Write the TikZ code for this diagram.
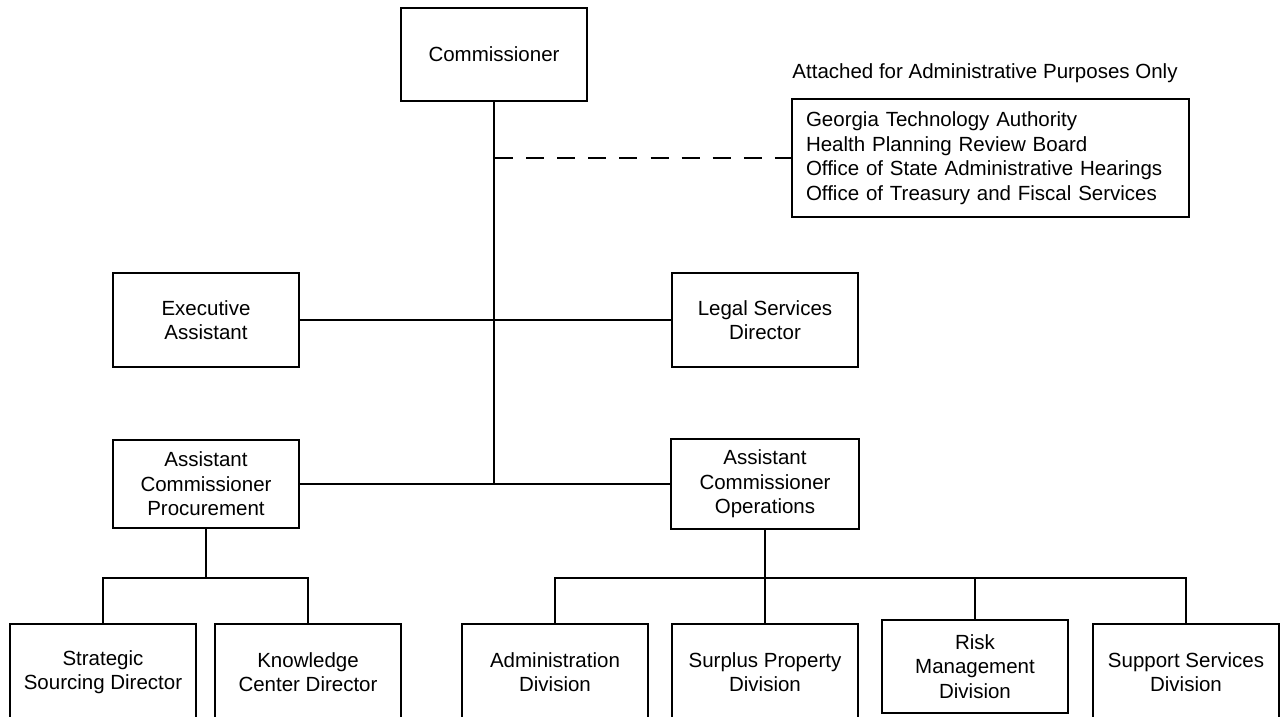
\documentclass[tikz,border=0pt]{standalone}
\usepackage{fontspec}
\setmainfont{Liberation Sans}
\begin{document}
\begin{tikzpicture}[x=1pt,y=-1pt,
  box/.style={draw, line width=2pt, minimum width=186pt, minimum height=94pt, align=center, inner sep=0pt, font=\fontsize{20.5}{24.5}\selectfont},
  lbl/.style={inner sep=0pt, font=\fontsize{20.5}{24.5}\selectfont},
  ln/.style={line width=2pt},
  dashln/.style={line width=2pt, dash pattern=on 18pt off 13.1pt}]
\useasboundingbox (0,0) rectangle (1282,717);
\clip (0,0) rectangle (1282,717);

\node[box, minimum height=93pt] (comm) at (494,54.5) {Commissioner};
\node[lbl] (attlabel) at (985,73) {Attached for Administrative Purposes Only};
\node[box, text width=369pt, align=left, inner xsep=14pt, inner ysep=0pt, minimum height=118pt] (att) at (990.5,158) {Georgia Technology Authority\\Health Planning Review Board\\Office of State Administrative Hearings\\Office of Treasury and Fiscal Services};

\node[box] (exec) at (206,320) {Executive\\Assistant};
\node[box] (legal) at (765,320) {Legal Services\\Director};
\node[box, minimum height=88pt] (proc) at (206,484) {Assistant\\Commissioner\\Procurement};
\node[box, minimum height=90pt, minimum width=188pt] (ops) at (765,484) {Assistant\\Commissioner\\Operations};

\node[box, minimum height=96pt] (strat) at (103,672) {Strategic\\Sourcing Director};
\node[box, minimum height=96pt] (know) at (308,672) {Knowledge\\Center Director};
\node[box, minimum height=96pt] (admin) at (555,672) {Administration\\Division};
\node[box, minimum height=96pt] (surplus) at (765,672) {Surplus Property\\Division};
\node[box, minimum height=93pt] (risk) at (975,666.5) {Risk\\Management\\Division};
\node[box, minimum height=96pt] (support) at (1186,672) {Support Services\\Division};

\coordinate (j) at (494,484);
\coordinate (d) at (495,158);
\coordinate (pb) at (206,578);
\coordinate (ob) at (765,578);

\draw[ln] (comm.south) -- (j);
\draw[dashln] (d) -- (att.west);
\draw[ln] (exec.east) -- (legal.west);
\draw[ln] (proc.east) -- (ops.west);
\draw[ln] (proc.south) -- (pb);
\draw[ln] (strat.north) |- (pb) -| (know.north);
\draw[ln] (ops.south) -- (ob);
\draw[ln] (admin.north) |- (ob) -| (support.north);
\draw[ln] (surplus.north) -- (ob);
\draw[ln] (risk.north) -- (risk.north |- ob);
\end{tikzpicture}
\end{document}
